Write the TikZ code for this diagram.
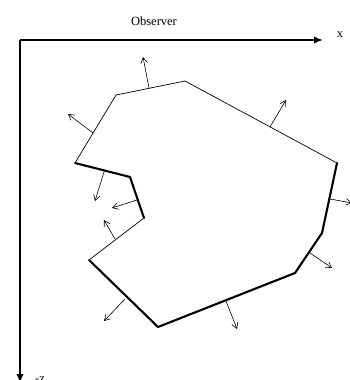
\documentclass[tikz,border=0pt]{standalone}
\usepackage{fontspec}
\setmainfont{Liberation Serif}
\usetikzlibrary{arrows.meta}
\tikzset{
  axis/.style={line width=1.7pt,-{Latex[length=9pt,width=7.5pt]}},
  thinedge/.style={line width=0.7pt},
  thickedge/.style={line width=2.1pt,line cap=round,line join=round},
  normalarrow/.style={line width=0.6pt,-{Straight Barb[length=5.5pt,width=6.5pt,line width=0.6pt]}},
  lab/.style={font=\fontsize{12.5}{14}\selectfont,inner sep=0pt}
}
\begin{document}
\begin{tikzpicture}[x=1pt,y=-1pt]
\useasboundingbox (0,0) rectangle (350,380);
\clip (0,0) rectangle (350,380);
\coordinate (O) at (20,40);
\coordinate (X) at (323,40);
\coordinate (Z) at (20,383);
\draw[axis] (O) -- (X);
\draw[axis] (O) -- (Z);
\node[lab] (obs) at (154,21) {Observer};
\node[lab] (xl) at (340,35) {x};
\node[lab] (zl) at (40,380) {-z};
\coordinate (A) at (75,163);
\coordinate (B) at (116,95);
\coordinate (C) at (185,81);
\coordinate (D) at (337,163);
\coordinate (E) at (322,233);
\coordinate (F) at (295,273);
\coordinate (G) at (158,327);
\coordinate (H) at (89,260);
\coordinate (I) at (144,218);
\coordinate (J) at (130,177);
\draw[thinedge] (A) -- (B) -- (C) -- (D);
\draw[thinedge] (H) -- (I);
\draw[thickedge] (D) -- (E) -- (F) -- (G) -- (H);
\draw[thickedge] (I) -- (J) -- (A);
\coordinate (n1s) at (93,133); \coordinate (n1e) at (68,114);
\coordinate (n2s) at (149,88); \coordinate (n2e) at (143,57);
\coordinate (n3s) at (270,127); \coordinate (n3e) at (286,100);
\coordinate (n4s) at (330,199); \coordinate (n4e) at (352,203);
\coordinate (n5s) at (310,253); \coordinate (n5e) at (332,268);
\coordinate (n6s) at (226,301); \coordinate (n6e) at (237,329);
\coordinate (n7s) at (125,299); \coordinate (n7e) at (104,321);
\coordinate (n8s) at (115,239); \coordinate (n8e) at (104,220);
\coordinate (n9s) at (137,200); \coordinate (n9e) at (112,208);
\coordinate (n10s) at (104,172); \coordinate (n10e) at (95,201);
\foreach \i in {1,...,10} \draw[normalarrow] (n\i s) -- (n\i e);
\end{tikzpicture}
\end{document}
